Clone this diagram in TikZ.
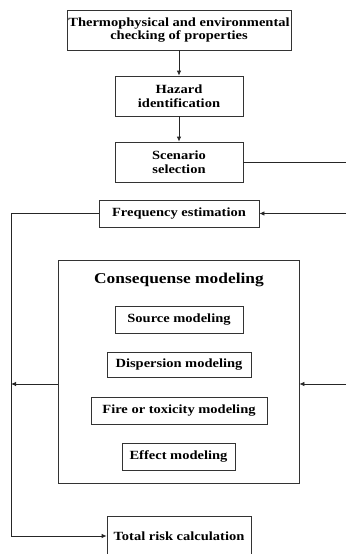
\documentclass[tikz,border=0pt]{standalone}
\usepackage{fontspec}
\setmainfont[FakeStretch=1.16]{Liberation Serif}
\usetikzlibrary{arrows.meta}
\begin{document}
\begin{tikzpicture}[x=1pt,y=-1pt,
  box/.style={draw=black!80,line width=0.8pt,inner sep=0pt,align=center,font=\fontsize{12.5}{13.5}\selectfont\bfseries},
  conn/.style={draw=black!85,line width=0.8pt},
  arr/.style={conn,-{Latex[length=5pt,width=4.5pt]}}]
\clip (0,0) rectangle (346,554);
\useasboundingbox (0,0) rectangle (346,554);
\node[box,minimum width=224pt,minimum height=40pt] (thermo) at (179,30) {Thermophysical and environmental\\checking of properties};
\node[box,minimum width=128pt,minimum height=40pt] (hazard) at (179,96) {Hazard\\identification};
\node[box,minimum width=128pt,minimum height=40pt] (scen) at (179,162) {Scenario\\selection};
\node[box,minimum width=160pt,minimum height=27pt] (freq) at (179,213.5) {Frequency estimation};
\node[box,minimum width=241pt,minimum height=223pt] (cons) at (178.5,371.5) {};
\node[font=\fontsize{15}{17}\selectfont\bfseries,inner sep=0pt] (title) at (179,280) {Consequense modeling};
\node[box,minimum width=128pt,minimum height=27pt] (source) at (179,319.5) {Source modeling};
\node[box,minimum width=144pt,minimum height=25pt] (disp) at (179,364.5) {Dispersion modeling};
\node[box,minimum width=176pt,minimum height=27pt] (fire) at (179,410.5) {Fire or toxicity modeling};
\node[box,minimum width=113pt,minimum height=27pt] (effect) at (178.5,456.5) {Effect modeling};
\node[box,minimum width=144pt,minimum height=40pt] (total) at (179,536) {Total risk calculation};
\coordinate (r1) at (346,162);
\coordinate (r2) at (346,213.5);
\coordinate (r3) at (346,384);
\coordinate (l1) at (11,213.5);
\coordinate (l2) at (11,384);
\coordinate (l3) at (11,536);
\draw[arr] (thermo) -- (hazard);
\draw[arr] (hazard) -- (scen);
\draw[conn] (scen.east) -- (r1);
\draw[arr] (r2) -- (freq.east);
\draw[arr] (r3) -- (cons.east |- r3);
\draw[conn] (freq.west) -- (l1) -- (l3);
\draw[arr] (l3) -- (total.west);
\draw[arr] (cons.west |- l2) -- (l2);
\end{tikzpicture}
\end{document}
